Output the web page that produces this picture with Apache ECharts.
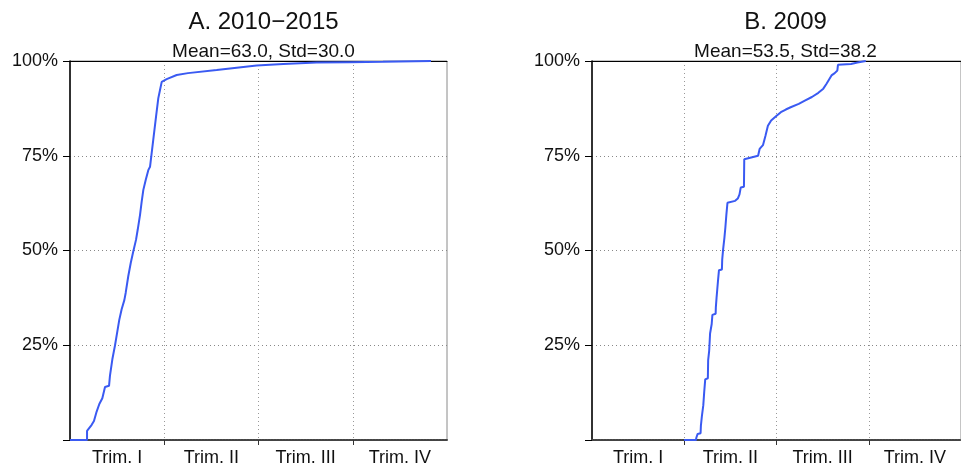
<!DOCTYPE html>
<html>
<head>
<meta charset="utf-8">
<style>
  html, body { margin: 0; padding: 0; background: #fff; }
  #chart { width: 961px; height: 470px; }
</style>
<script src="https://cdn.jsdelivr.net/npm/echarts@6/dist/echarts.min.js"></script>
</head>
<body>
<div id="chart"></div>
<script>
// Quarter labels along the day-of-year axis
const quarterLabels = ['Trim. I', 'Trim. II', 'Trim. III', 'Trim. IV'];
const quarterBounds = [91.25, 182.5, 273.75];
const quarterCenters = [45.625, 136.875, 228.125, 319.375];

const panelTitles = ['A. 2010\u22122015', 'B. 2009'];
const panelStats = ['Mean=63.0, Std=30.0', 'Mean=53.5, Std=38.2'];

// Panel A: cumulative share (%) by day of year
const daysA = [0, 16.5, 16.5, 21, 23.2, 25.8, 28.4, 31.3, 33.9, 37.8, 38.7, 41, 43.6, 45.8, 47.7,
  50, 52.6, 53.9, 56.4, 58.8, 61.3, 63.9, 65.5, 67.8, 69.4, 71, 73.3, 75.8, 77.5, 80.6, 83.3,
  85.5, 87.1, 88.8, 93.6, 103.3, 114.2, 142, 180.7, 206.5, 238.8, 271, 303, 349.5];
const shareA = [0, 0, 2.4, 4, 5, 7.5, 9.5, 11, 14, 14.3, 17, 21.3, 25, 28.6, 31.7,
  34.5, 36.9, 38.8, 43.2, 46.7, 49.8, 52.8, 55.4, 59.4, 62.9, 66, 68.6, 71.2, 72.1, 79.2, 85.3,
  90.2, 92.3, 94.5, 95.2, 96.3, 96.8, 97.6, 98.8, 99.2, 99.6, 99.7, 99.8, 100];

// Panel B: cumulative share (%) by day of year
const daysB = [91, 102.9, 103.2, 104.5, 107.4, 107.7, 108.7, 110.1, 111, 112, 114.6, 114.9, 115.9,
  116.8, 118.4, 119.1, 122.3, 122.5, 123.2, 123.9, 124.6, 125.6, 128.5, 128.8, 129.7, 131, 131.9,
  132.9, 134, 141.6, 144.2, 145.9, 147.1, 150.3, 150.6, 164.3, 165.8, 169.1, 171.6, 174, 177.2,
  182, 186.8, 191.7, 196.5, 204.5, 211, 217.5, 223.9, 228.8, 232, 236.9, 240.1, 242.7, 243.3,
  256.2, 262.6, 270.8];
const shareB = [0, 0, 0.6, 1.6, 1.8, 3.7, 6.3, 9.2, 12.7, 16, 16.3, 21.1, 23.5,
  28.1, 30.6, 33, 33.3, 35, 37.5, 39.7, 41.9, 44.8, 45, 47.6, 50.3, 53.4, 56,
  59.4, 62.6, 63.1, 63.7, 64.8, 66.6, 66.8, 74.1, 75, 76.8, 77.8, 80.3, 82.9, 84.3,
  85.4, 86.5, 87.2, 87.8, 88.7, 89.6, 90.5, 91.6, 92.7, 94, 96.2, 96.8, 97.5, 99,
  99.2, 99.6, 100];

const FONT = '"Liberation Sans", Arial, Helvetica, sans-serif';
const panelLefts = [70, 592];
const PLOT_W = 377, PLOT_TOP = 61, PLOT_H = 379;

function pairs(xs, ys) { return xs.map((x, i) => [x, ys[i]]); }

const grids = [], xAxes = [], yAxes = [], series = [], titles = [];

panelLefts.forEach((left, p) => {
  grids.push({
    left: left, top: PLOT_TOP, width: PLOT_W, height: PLOT_H,
    show: true, borderColor: '#8a8a8a', borderWidth: 1, backgroundColor: 'transparent'
  });
  // bottom axis carrying the data scale
  xAxes.push({
    gridIndex: p, type: 'value', position: 'bottom', min: 0, max: 365, interval: 91.25,
    axisLine: { show: true, onZero: false, lineStyle: { color: '#444', width: 2, type: [2, 1] } },
    axisTick: { show: true, length: 5, customValues: quarterBounds, lineStyle: { color: '#333', width: 1 } },
    axisLabel: {
      show: true, customValues: quarterCenters, margin: 9,
      fontFamily: FONT, fontSize: 18, color: '#111',
      formatter: v => quarterLabels[Math.floor(v / 91.25)]
    },
    splitLine: { show: true, lineStyle: { color: '#999', width: 1, type: [1, 3] } }
  });
  // top border
  xAxes.push({
    gridIndex: p, type: 'value', position: 'top', min: 0, max: 365,
    axisLine: { show: true, onZero: false, lineStyle: { color: '#000', width: 1 } },
    axisTick: { show: false }, axisLabel: { show: false }, splitLine: { show: false }
  });
  yAxes.push({
    gridIndex: p, type: 'value', min: 0, max: 100, interval: 25,
    axisLine: { show: true, onZero: false, lineStyle: { color: '#000', width: 1.5 } },
    axisTick: { show: true, length: 7, lineStyle: { color: '#000', width: 1 } },
    axisLabel: {
      margin: 12, fontFamily: FONT, fontSize: 18, color: '#111',
      formatter: v => (v === 0 ? '' : v + '%')
    },
    splitLine: { show: true, lineStyle: { color: '#888', width: 1, type: [1, 3] } }
  });
  const cx = left + PLOT_W / 2;
  titles.push({
    text: panelTitles[p], left: cx, top: 5, textAlign: 'center',
    textStyle: { fontFamily: FONT, fontSize: 24, fontWeight: 'normal', color: '#111' }
  });
  titles.push({
    text: panelStats[p], left: cx, top: 37, textAlign: 'center',
    textStyle: { fontFamily: FONT, fontSize: 19, fontWeight: 'normal', color: '#111' }
  });
});

series.push({
  type: 'line', xAxisIndex: 0, yAxisIndex: 0, data: pairs(daysA, shareA),
  showSymbol: false, silent: true, animation: false, z: 5,
  lineStyle: { color: '#3a5af2', width: 2 }
});
series.push({
  type: 'line', xAxisIndex: 2, yAxisIndex: 1, data: pairs(daysB, shareB),
  showSymbol: false, silent: true, animation: false, z: 5,
  lineStyle: { color: '#3a5af2', width: 2 }
});

const chart = echarts.init(document.getElementById('chart'), null, { renderer: 'canvas' });
chart.setOption({
  animation: false,
  backgroundColor: '#fff',
  title: titles,
  grid: grids,
  xAxis: xAxes,
  yAxis: yAxes,
  series: series
});
</script>
</body>
</html>
